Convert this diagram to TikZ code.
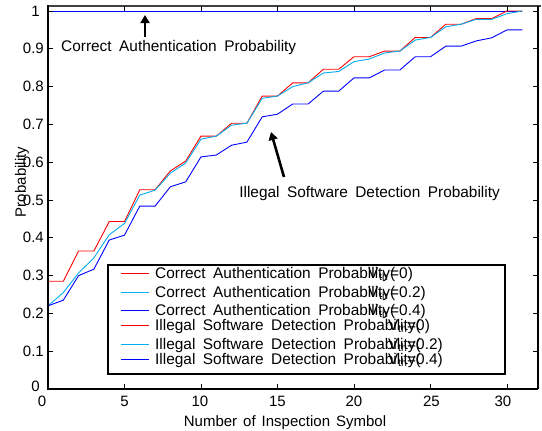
\documentclass[tikz,border=0pt]{standalone}
\usepackage{fontspec}
\setmainfont{Liberation Sans}
\usetikzlibrary{arrows.meta}
\newcommand\plotfont{\fontsize{15}{17}\selectfont\spaceskip=6pt plus 1pt\relax}
\newcommand\annfont{\fontsize{15.4}{17}\selectfont\spaceskip=7.5pt plus 1pt\relax}
\newcommand\legfont{\fontsize{15.4}{17}\selectfont\spaceskip=7.5pt plus 1pt\relax}
\newcommand\subfont{\fontsize{10.5}{12}\selectfont}
\begin{document}
\begin{tikzpicture}[x=1pt,y=-1pt,
  txt/.style={inner sep=0pt, font=\plotfont},
  ann/.style={inner sep=0pt, font=\annfont},
  leg/.style={inner sep=0pt, anchor=base west, font=\legfont},
  sub/.style={inner sep=0pt, anchor=base west, font=\subfont},
  curve/.style={line width=0.9pt, line join=miter},
  legline/.style={line width=1.4pt},
  tick/.style={line width=0.8pt},
  pointer/.style={line width=2.6pt, -{Triangle[length=8pt,width=9pt]}}]
\useasboundingbox (0,0) rectangle (542,431);
\fill[white] (0,0) rectangle (542,431);

% ---- curves (data units: symbols / probability) ----
\begin{scope}[shift={(48,389)}, x=15.3pt, y=378pt]
  % correct authentication probability
  \draw[curve, red]  (0,1) -- (31,1);
  \draw[curve, cyan] (0,1) -- (31,1);
  \draw[curve, blue] (0,1) -- (31,1);
  % illegal software detection probability, Vth = 0
  \draw[curve, red] plot coordinates {(0,.285) (1,.285) (2,.365) (3,.365) (4,.443) (5,.443)
    (6,.527) (7,.527) (8,.577) (9,.603) (10,.669) (11,.669) (12,.703) (13,.703)
    (14,.775) (15,.775) (16,.81) (17,.81) (18,.846) (19,.846) (20,.879) (21,.879)
    (22,.894) (23,.894) (24,.93) (25,.93) (26,.965) (27,.965) (28,.98) (29,.98)
    (30,1) (31,1)};
  % Vth = 0.2
  \draw[curve, cyan] plot coordinates {(0,.22) (1,.255) (2,.307) (3,.347) (4,.408) (5,.438)
    (6,.513) (7,.526) (8,.571) (9,.598) (10,.661) (11,.669) (12,.698) (13,.703)
    (14,.769) (15,.775) (16,.80) (17,.81) (18,.836) (19,.84) (20,.866) (21,.873)
    (22,.889) (23,.894) (24,.923) (25,.93) (26,.958) (27,.965) (28,.978) (29,.978)
    (30,.993) (31,1)};
  % Vth = 0.4
  \draw[curve, blue] plot coordinates {(0,.22) (1,.235) (2,.30) (3,.317) (4,.394) (5,.407)
    (6,.484) (7,.484) (8,.535) (9,.548) (10,.614) (11,.619) (12,.645) (13,.653)
    (14,.72) (15,.727) (16,.754) (17,.754) (18,.788) (19,.788) (20,.823) (21,.823)
    (22,.844) (23,.844) (24,.879) (25,.879) (26,.907) (27,.907) (28,.921) (29,.929)
    (30,.95) (31,.95)};
\end{scope}

% ---- axes frame ----
\draw[line width=1.6pt, black!75] (47,6) -- (541,6);
\draw[line width=1.2pt] (538,6) -- (538,389);
\draw[line width=2pt] (48,5) -- (48,389) -- (538,389);

% ---- ticks ----
\foreach \k in {0,...,10}{
  \draw[tick] (48,389-37.8*\k) -- (53,389-37.8*\k);
  \draw[tick] (538,389-37.8*\k) -- (533,389-37.8*\k);
}
\foreach \k in {1,...,6}{
  \draw[tick] (48+76.5*\k,6) -- (48+76.5*\k,11);
  \draw[tick] (48+76.5*\k,389) -- (48+76.5*\k,384);
}

% ---- tick labels ----
\node[txt, anchor=east] (y10) at (40,11) {1};
\foreach \v/\k in {0.9/9,0.8/8,0.7/7,0.6/6,0.5/5,0.4/4,0.3/3,0.2/2,0.1/1}{
  \node[txt, anchor=east] (y\k) at (44,389-37.8*\k) {\v};
}
\node[txt, anchor=east] (y0) at (40,386) {0};
\node[txt] (x0) at (42,401) {0};
\foreach \v/\k/\dx in {5/1/0,10/2/-1,15/3/0,20/4/0,25/5/1,30/6/-4}{
  \node[txt] (x\k) at (48+76.5*\k+\dx,401) {\v};
}

% ---- axis titles ----
\node[txt] (xlabel) at (285,423) {Number of Inspection Symbol};
\node[txt, rotate=90] (ylabel) at (22,182) {Probability};

% ---- annotations ----
\node[ann, anchor=west] (caText) at (61,48) {Correct Authentication Probability};
\coordinate (caTail) at (145,37);
\coordinate (caTip) at (145,15);
\draw[pointer] (caTail) -- (caTip);

\node[ann, anchor=east] (isText) at (500,194) {Illegal Software Detection Probability};
\coordinate (isTail) at (284,177);
\coordinate (isTip) at (271,132);
\draw[pointer] (isTail) -- (isTip);

% ---- legend ----
\draw[line width=1.5pt, fill=white] (108,265) rectangle (505,374);
\foreach \y/\lab/\val in {278/ca0/0, 297/ca2/0.2, 315/ca4/0.4}{
  \node[leg] (\lab) at (155,\y) {Correct Authentication Probability(};
  \node[leg] (\lab V) at (368,\y) {V};
  \node[sub] (\lab th) at (379,\y+2) {th};
  \node[leg] (\lab eq) at (390,\y) {=\val)};
}
\foreach \y/\lab/\val in {330/is0/0, 349/is2/0.2, 364/is4/0.4}{
  \node[leg] (\lab) at (155,\y) {Illegal Software Detection Probability(};
  \node[leg] (\lab V) at (388,\y) {V};
  \node[sub] (\lab th) at (398,\y+2) {th};
  \node[leg] (\lab eq) at (407,\y) {=\val)};
}
% legend line samples
\path[legline, draw=red]  (121,273.5) -- (149,273.5);
\path[legline, draw=cyan] (121,292.5) -- (149,292.5);
\path[legline, draw=blue] (121,310.5) -- (149,310.5);
\path[legline, draw=red]  (121,325.5) -- (149,325.5);
\path[legline, draw=cyan] (121,344.5) -- (149,344.5);
\path[legline, draw=blue] (121,359.5) -- (149,359.5);
\end{tikzpicture}
\end{document}
